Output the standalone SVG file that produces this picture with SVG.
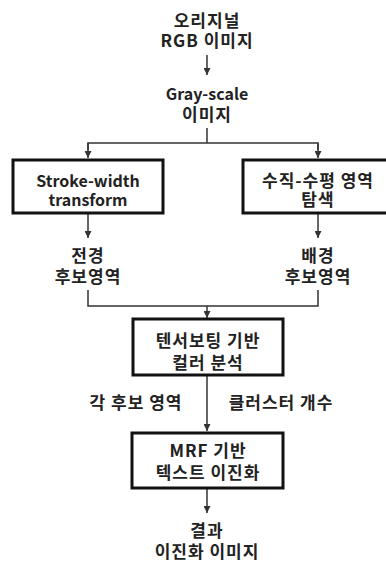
<svg xmlns="http://www.w3.org/2000/svg" width="386" height="562" viewBox="0 0 386 562">
<defs>
<style>
text{font-family:"Noto Sans CJK KR","Noto Sans",sans-serif;font-weight:bold;font-size:17px;fill:#222;text-anchor:middle;letter-spacing:1px}
text.lat{font-size:16px;letter-spacing:0}
.box{fill:#fff;stroke:#111;stroke-width:3}
.ln{fill:none;stroke:#333;stroke-width:1.5}
</style>
<marker id="ah" viewBox="0 0 8 8" refX="8" refY="4" markerWidth="7" markerHeight="7" markerUnits="userSpaceOnUse" orient="auto">
<path d="M0,0 L8,4 L0,8 Z" fill="#333"/>
</marker>
</defs>
<rect width="386" height="562" fill="#fff"/>
<g id="connectors">
<line class="ln" x1="207" y1="55" x2="207" y2="75" marker-end="url(#ah)"/>
<polyline class="ln" points="207,128 207,143"/>
<polyline class="ln" points="88,150 88,143 318,143 318,150"/>
<line class="ln" x1="88" y1="143" x2="88" y2="158" marker-end="url(#ah)"/>
<line class="ln" x1="318" y1="143" x2="318" y2="158" marker-end="url(#ah)"/>
<line class="ln" x1="88" y1="213" x2="88" y2="238" marker-end="url(#ah)"/>
<line class="ln" x1="318" y1="213" x2="318" y2="238" marker-end="url(#ah)"/>
<polyline class="ln" points="88,290 88,306 318,306 318,290"/>
<line class="ln" x1="207" y1="306" x2="207" y2="318" marker-end="url(#ah)"/>
<line class="ln" x1="207" y1="375" x2="207" y2="431" marker-end="url(#ah)"/>
<line class="ln" x1="207" y1="488" x2="207" y2="513" marker-end="url(#ah)"/>
</g>
<g id="n-input">
<text x="207" y="27">오리지널</text>
<text x="207" y="47">RGB 이미지</text>
</g>
<g id="n-gray">
<text class="lat" x="207" y="100">Gray-scale</text>
<text x="207" y="121">이미지</text>
</g>
<g id="n-swt">
<rect class="box" x="13" y="160" width="150" height="53"/>
<text class="lat" x="88" y="187">Stroke-width</text>
<text class="lat" x="88" y="206">transform</text>
</g>
<g id="n-search">
<rect class="box" x="243" y="160" width="150" height="53"/>
<text x="318" y="187">수직-수평 영역</text>
<text x="318" y="206">탐색</text>
</g>
<g id="n-fg">
<text x="88" y="262">전경</text>
<text x="88" y="283">후보영역</text>
</g>
<g id="n-bg">
<text x="318" y="262">배경</text>
<text x="318" y="283">후보영역</text>
</g>
<g id="n-tensor">
<rect class="box" x="133" y="319" width="150" height="56"/>
<text x="208" y="347">텐서보팅 기반</text>
<text x="208" y="369">컬러 분석</text>
</g>
<g id="n-labels">
<text x="136" y="409">각 후보 영역</text>
<text x="281" y="409">클러스터 개수</text>
</g>
<g id="n-mrf">
<rect class="box" x="132" y="433" width="151" height="55"/>
<text x="208" y="457">MRF 기반</text>
<text x="208" y="479">텍스트 이진화</text>
</g>
<g id="n-result">
<text x="207" y="537">결과</text>
<text x="207" y="558">이진화 이미지</text>
</g>
</svg>
